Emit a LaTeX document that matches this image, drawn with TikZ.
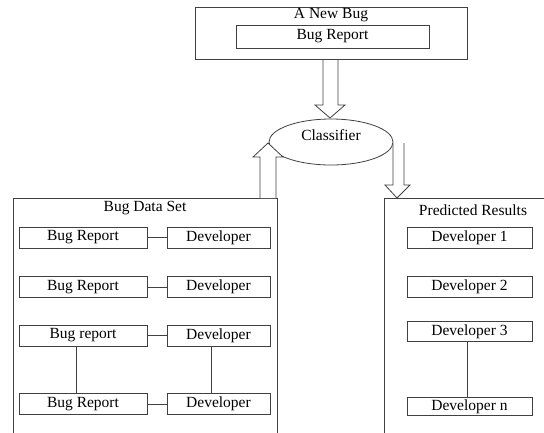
\documentclass[tikz,border=0pt]{standalone}
\usepackage{fontspec}
\setmainfont{Liberation Serif}
\usetikzlibrary{shapes.geometric}
\begin{document}
\begin{tikzpicture}[x=1pt,y=-1pt,
  ln/.style={draw=black!75,line width=0.8pt},
  box/.style={ln,rectangle,inner sep=0pt,fill=white},
  lbl/.style={inner sep=0pt},
  blk/.style={ln,fill=white,line join=miter},
  every node/.style={font=\fontsize{15.5}{18}\selectfont}]
\useasboundingbox (0,0) rectangle (544,432);
\clip (0,0) rectangle (544,432);
% top box
\node[box,minimum width=272pt,minimum height=52pt] (top) at (331,33) {};
\node[lbl] (newbug) at (331,15) {A New Bug};
\node[box,minimum width=193pt,minimum height=23pt] (topbr) at (332.5,36.5) {Bug Report};
% outer boxes
\draw[ln] (13,450) -- (13,198) -- (277,198) -- (277,450);
\node[lbl] (dstitle) at (145,208) {Bug Data Set};
\draw[ln] (384,450) -- (384,198) -- (560,198);
\node[lbl] (prtitle) at (473,210) {Predicted Results};
% classifier
\node[ln,ellipse,minimum width=124pt,minimum height=46pt,inner sep=0pt] (cls) at (331,142) {};
\node[lbl] (clstext) at (331,135) {Classifier};
% block arrows
\draw[blk] (323,60) -- (323,105) -- (315,105) -- (330,118) -- (345,105) -- (338,105) -- (338,60);
\draw[blk] (260,198) -- (260,157) -- (253,157) -- (268,143) -- (283,157) -- (276,157) -- (276,198);
\draw[blk] (393,143) -- (393,185) -- (385,185) -- (397,198) -- (410,185) -- (404,185) -- (404,143);
% data set rows
\foreach \n/\y/\t in {1/237.5/Bug Report,2/287/Bug Report,3/335.5/Bug report,4/404/Bug Report}{
  \node[box,minimum width=128pt,minimum height=21pt] (br\n) at (83,\y) {\t};
  \node[box,minimum width=103pt,minimum height=21pt] (dv\n) at (218.5,\y) {Developer};
  \draw[ln] (br\n) -- (dv\n);
}
\coordinate (vl) at (76,0);
\coordinate (vr) at (211,0);
\draw[ln] (br3.south -| vl) -- (br4.north -| vl);
\draw[ln] (dv3.south -| vr) -- (dv4.north -| vr);
% predicted
\node[box,minimum width=125pt,minimum height=21pt] (pd1) at (469.5,237.5) {Developer 1};
\node[box,minimum width=125pt,minimum height=21pt] (pd2) at (469.5,287) {Developer 2};
\node[box,minimum width=125pt,minimum height=20pt] (pd3) at (469.5,331.5) {Developer 3};
\node[box,minimum width=125pt,minimum height=18pt] (pdn) at (469.5,406.5) {Developer n};
\coordinate (vp) at (467,0);
\draw[ln] (pd3.south -| vp) -- (pdn.north -| vp);
\end{tikzpicture}
\end{document}
